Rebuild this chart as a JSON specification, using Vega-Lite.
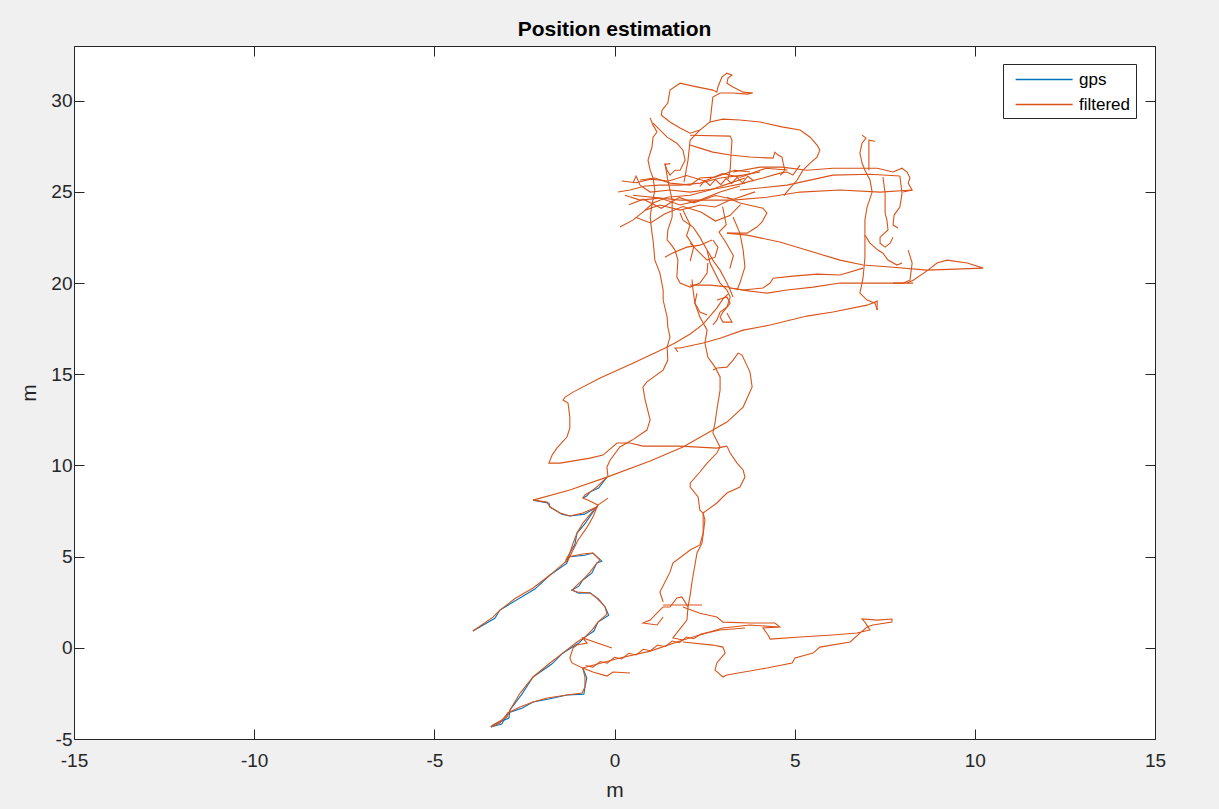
{
"$schema": "https://vega.github.io/schema/vega-lite/v6.json",
"width": 1081, "height": 693,
"autosize": {"type": "none"},
"padding": {"left": 74, "top": 46, "right": 64, "bottom": 70},
"background": "#f0f0f0",
"config": {"view": {"fill": "white", "stroke": "#262626", "strokeWidth": 1}, "font": "Liberation Sans"},
"title": {"text": "Position estimation", "font": "Liberation Sans", "fontSize": 21, "fontWeight": "bold", "color": "black", "offset": -11, "baseline": "alphabetic", "frame": "group"},
"datasets": {"pts": [
{"s":"gps","g":101,"i":0,"x":-3.93,"y":0.92},{"s":"gps","g":101,"i":1,"x":-3.32,"y":1.62},{"s":"gps","g":101,"i":2,"x":-3.18,"y":2.07},{"s":"gps","g":101,"i":3,"x":-2.21,"y":3.22},{"s":"gps","g":101,"i":4,"x":-1.79,"y":3.99},{"s":"gps","g":101,"i":5,"x":-1.32,"y":4.64},{"s":"gps","g":101,"i":6,"x":-1.29,"y":4.98},{"s":"gps","g":101,"i":7,"x":-0.83,"y":5.08},{"s":"gps","g":101,"i":8,"x":-0.6,"y":5.2},{"s":"gps","g":101,"i":9,"x":-0.35,"y":4.75},{"s":"gps","g":101,"i":10,"x":-0.49,"y":4.65},{"s":"gps","g":101,"i":11,"x":-0.63,"y":4.09},{"s":"gps","g":101,"i":12,"x":-0.88,"y":3.72},{"s":"gps","g":101,"i":13,"x":-0.99,"y":3.38},{"s":"gps","g":101,"i":14,"x":-1.18,"y":3.17},{"s":"gps","g":101,"i":15,"x":-0.99,"y":3.0},{"s":"gps","g":101,"i":16,"x":-0.68,"y":3.01},{"s":"gps","g":101,"i":17,"x":-0.44,"y":2.67},{"s":"gps","g":101,"i":18,"x":-0.26,"y":2.24},{"s":"gps","g":101,"i":19,"x":-0.16,"y":1.79},{"s":"gps","g":101,"i":20,"x":-0.46,"y":1.41},{"s":"gps","g":101,"i":21,"x":-0.57,"y":0.92},{"s":"gps","g":101,"i":22,"x":-0.82,"y":0.59},{"s":"gps","g":101,"i":23,"x":-0.99,"y":0.26},{"s":"gps","g":101,"i":24,"x":-1.43,"y":-0.28},{"s":"gps","g":101,"i":25,"x":-1.74,"y":-0.89},{"s":"gps","g":101,"i":26,"x":-2.26,"y":-1.6},{"s":"gps","g":101,"i":27,"x":-2.57,"y":-2.54},{"s":"gps","g":101,"i":28,"x":-2.9,"y":-3.41},{"s":"gps","g":101,"i":29,"x":-2.93,"y":-3.85},{"s":"gps","g":101,"i":30,"x":-3.37,"y":-4.23},{"s":"gps","g":101,"i":31,"x":-3.43,"y":-4.34},
{"s":"gps","g":102,"i":0,"x":-3.43,"y":-4.34},{"s":"gps","g":102,"i":1,"x":-3.13,"y":-4.18},{"s":"gps","g":102,"i":2,"x":-2.96,"y":-3.57},{"s":"gps","g":102,"i":3,"x":-2.57,"y":-3.31},{"s":"gps","g":102,"i":4,"x":-2.26,"y":-2.97},{"s":"gps","g":102,"i":5,"x":-1.82,"y":-2.81},{"s":"gps","g":102,"i":6,"x":-1.32,"y":-2.59},{"s":"gps","g":102,"i":7,"x":-0.85,"y":-2.54},{"s":"gps","g":102,"i":8,"x":-0.82,"y":-2.15},{"s":"gps","g":102,"i":9,"x":-0.77,"y":-1.66},{"s":"gps","g":102,"i":10,"x":-0.88,"y":-1.11},
{"s":"gps","g":103,"i":0,"x":-0.46,"y":7.83},{"s":"gps","g":103,"i":1,"x":-0.83,"y":6.78},{"s":"gps","g":103,"i":2,"x":-1.04,"y":6.29},{"s":"gps","g":103,"i":3,"x":-1.1,"y":5.68},{"s":"gps","g":103,"i":4,"x":-1.24,"y":5.2},{"s":"gps","g":103,"i":5,"x":-1.3,"y":4.75},{"s":"gps","g":103,"i":6,"x":-1.37,"y":4.7},
{"s":"gps","g":104,"i":0,"x":-0.21,"y":9.36},{"s":"gps","g":104,"i":1,"x":-0.44,"y":8.76},{"s":"gps","g":104,"i":2,"x":-0.68,"y":8.54},{"s":"gps","g":104,"i":3,"x":-0.77,"y":8.32},{"s":"gps","g":104,"i":4,"x":-0.88,"y":8.21},
{"s":"gps","g":105,"i":0,"x":-2.26,"y":8.1},{"s":"gps","g":105,"i":1,"x":-1.82,"y":7.93},{"s":"gps","g":105,"i":2,"x":-1.79,"y":7.72},{"s":"gps","g":105,"i":3,"x":-1.46,"y":7.33},{"s":"gps","g":105,"i":4,"x":-1.24,"y":7.23},{"s":"gps","g":105,"i":5,"x":-0.83,"y":7.33},{"s":"gps","g":105,"i":6,"x":-0.49,"y":7.72},

{"s":"filtered","g":1,"i":0,"x":-3.93,"y":0.92},{"s":"filtered","g":1,"i":1,"x":-3.37,"y":1.68},{"s":"filtered","g":1,"i":2,"x":-3.18,"y":2.07},{"s":"filtered","g":1,"i":3,"x":-2.75,"y":2.72},{"s":"filtered","g":1,"i":4,"x":-2.26,"y":3.28},{"s":"filtered","g":1,"i":5,"x":-1.79,"y":3.99},{"s":"filtered","g":1,"i":6,"x":-1.37,"y":4.7},{"s":"filtered","g":1,"i":7,"x":-1.29,"y":4.98},{"s":"filtered","g":1,"i":8,"x":-0.88,"y":5.14},{"s":"filtered","g":1,"i":9,"x":-0.6,"y":5.2},{"s":"filtered","g":1,"i":10,"x":-0.4,"y":4.81},{"s":"filtered","g":1,"i":11,"x":-0.49,"y":4.65},{"s":"filtered","g":1,"i":12,"x":-0.68,"y":4.15},{"s":"filtered","g":1,"i":13,"x":-0.88,"y":3.72},{"s":"filtered","g":1,"i":14,"x":-1.04,"y":3.44},{"s":"filtered","g":1,"i":15,"x":-1.18,"y":3.17},{"s":"filtered","g":1,"i":16,"x":-1.04,"y":3.06},{"s":"filtered","g":1,"i":17,"x":-0.68,"y":3.01},{"s":"filtered","g":1,"i":18,"x":-0.49,"y":2.73},{"s":"filtered","g":1,"i":19,"x":-0.26,"y":2.24},{"s":"filtered","g":1,"i":20,"x":-0.21,"y":1.85},{"s":"filtered","g":1,"i":21,"x":-0.46,"y":1.41},{"s":"filtered","g":1,"i":22,"x":-0.62,"y":0.98},{"s":"filtered","g":1,"i":23,"x":-0.82,"y":0.59},{"s":"filtered","g":1,"i":24,"x":-1.04,"y":0.32},{"s":"filtered","g":1,"i":25,"x":-1.43,"y":-0.28},{"s":"filtered","g":1,"i":26,"x":-1.79,"y":-0.83},{"s":"filtered","g":1,"i":27,"x":-2.26,"y":-1.6},{"s":"filtered","g":1,"i":28,"x":-2.62,"y":-2.48},{"s":"filtered","g":1,"i":29,"x":-2.9,"y":-3.41},{"s":"filtered","g":1,"i":30,"x":-2.98,"y":-3.79},{"s":"filtered","g":1,"i":31,"x":-3.37,"y":-4.23},{"s":"filtered","g":1,"i":32,"x":-3.43,"y":-4.34},
{"s":"filtered","g":2,"i":0,"x":-3.43,"y":-4.34},{"s":"filtered","g":2,"i":1,"x":-3.18,"y":-4.12},{"s":"filtered","g":2,"i":2,"x":-2.96,"y":-3.57},{"s":"filtered","g":2,"i":3,"x":-2.62,"y":-3.25},{"s":"filtered","g":2,"i":4,"x":-2.26,"y":-2.97},{"s":"filtered","g":2,"i":5,"x":-1.87,"y":-2.75},{"s":"filtered","g":2,"i":6,"x":-1.32,"y":-2.59},{"s":"filtered","g":2,"i":7,"x":-0.9,"y":-2.48},{"s":"filtered","g":2,"i":8,"x":-0.82,"y":-2.15},{"s":"filtered","g":2,"i":9,"x":-0.82,"y":-1.6},{"s":"filtered","g":2,"i":10,"x":-0.88,"y":-1.11},{"s":"filtered","g":2,"i":11,"x":-1.18,"y":-0.83},{"s":"filtered","g":2,"i":12,"x":-1.24,"y":-0.56},{"s":"filtered","g":2,"i":13,"x":-1.15,"y":-0.01},{"s":"filtered","g":2,"i":14,"x":-1.04,"y":0.15},{"s":"filtered","g":2,"i":15,"x":-0.76,"y":0.26},{"s":"filtered","g":2,"i":16,"x":-0.88,"y":0.54},{"s":"filtered","g":2,"i":17,"x":-0.07,"y":-0.01},
{"s":"filtered","g":3,"i":0,"x":-0.88,"y":-1.11},{"s":"filtered","g":3,"i":1,"x":-0.6,"y":-1.33},{"s":"filtered","g":3,"i":2,"x":-0.21,"y":-1.55},{"s":"filtered","g":3,"i":3,"x":-0.04,"y":-1.33},{"s":"filtered","g":3,"i":4,"x":0.43,"y":-1.38},
{"s":"filtered","g":4,"i":0,"x":-0.88,"y":-1.11},{"s":"filtered","g":4,"i":1,"x":0.15,"y":-0.56},{"s":"filtered","g":4,"i":2,"x":0.99,"y":-0.18},{"s":"filtered","g":4,"i":3,"x":1.9,"y":0.43},{"s":"filtered","g":4,"i":4,"x":3.01,"y":1.09},{"s":"filtered","g":4,"i":5,"x":3.76,"y":1.25},{"s":"filtered","g":4,"i":6,"x":4.54,"y":1.14},
{"s":"filtered","g":5,"i":0,"x":-0.8,"y":-0.97},{"s":"filtered","g":5,"i":1,"x":-0.6,"y":-1.06},{"s":"filtered","g":5,"i":2,"x":-0.4,"y":-0.75},{"s":"filtered","g":5,"i":3,"x":-0.2,"y":-0.84},{"s":"filtered","g":5,"i":4,"x":0.0,"y":-0.52},{"s":"filtered","g":5,"i":5,"x":0.2,"y":-0.61},{"s":"filtered","g":5,"i":6,"x":0.4,"y":-0.3},{"s":"filtered","g":5,"i":7,"x":0.6,"y":-0.39},{"s":"filtered","g":5,"i":8,"x":0.8,"y":-0.08},{"s":"filtered","g":5,"i":9,"x":1.0,"y":-0.16},{"s":"filtered","g":5,"i":10,"x":1.2,"y":0.15},{"s":"filtered","g":5,"i":11,"x":1.4,"y":0.06},{"s":"filtered","g":5,"i":12,"x":1.6,"y":0.37},{"s":"filtered","g":5,"i":13,"x":1.8,"y":0.28},{"s":"filtered","g":5,"i":14,"x":2.0,"y":0.59},{"s":"filtered","g":5,"i":15,"x":2.2,"y":0.5},{"s":"filtered","g":5,"i":16,"x":2.4,"y":0.75},{"s":"filtered","g":5,"i":17,"x":2.93,"y":0.98},{"s":"filtered","g":5,"i":18,"x":3.62,"y":1.09},
{"s":"filtered","g":6,"i":0,"x":1.9,"y":0.43},{"s":"filtered","g":6,"i":1,"x":1.62,"y":0.54},{"s":"filtered","g":6,"i":2,"x":2.01,"y":1.52},{"s":"filtered","g":6,"i":3,"x":2.04,"y":2.24},{"s":"filtered","g":6,"i":4,"x":1.87,"y":2.79},{"s":"filtered","g":6,"i":5,"x":1.73,"y":2.73},{"s":"filtered","g":6,"i":6,"x":1.54,"y":2.24},{"s":"filtered","g":6,"i":7,"x":1.35,"y":2.24},
{"s":"filtered","g":7,"i":0,"x":1.35,"y":2.35},{"s":"filtered","g":7,"i":1,"x":2.43,"y":2.35},
{"s":"filtered","g":8,"i":0,"x":1.35,"y":2.24},{"s":"filtered","g":8,"i":1,"x":0.99,"y":1.52},{"s":"filtered","g":8,"i":2,"x":0.79,"y":1.36},{"s":"filtered","g":8,"i":3,"x":1.18,"y":1.25},{"s":"filtered","g":8,"i":4,"x":1.35,"y":1.69},
{"s":"filtered","g":9,"i":0,"x":1.35,"y":2.51},{"s":"filtered","g":9,"i":1,"x":1.26,"y":3.06},{"s":"filtered","g":9,"i":2,"x":1.54,"y":4.15},{"s":"filtered","g":9,"i":3,"x":1.62,"y":4.65},{"s":"filtered","g":9,"i":4,"x":2.1,"y":5.36},{"s":"filtered","g":9,"i":5,"x":2.37,"y":5.64},{"s":"filtered","g":9,"i":6,"x":2.46,"y":6.29},{"s":"filtered","g":9,"i":7,"x":2.46,"y":7.01},{"s":"filtered","g":9,"i":8,"x":2.46,"y":7.39},
{"s":"filtered","g":10,"i":0,"x":2.04,"y":2.24},{"s":"filtered","g":10,"i":1,"x":2.1,"y":2.89},{"s":"filtered","g":10,"i":2,"x":2.15,"y":3.61},{"s":"filtered","g":10,"i":3,"x":2.29,"y":5.2},{"s":"filtered","g":10,"i":4,"x":2.43,"y":5.75},{"s":"filtered","g":10,"i":5,"x":2.51,"y":7.01},{"s":"filtered","g":10,"i":6,"x":2.46,"y":7.39},
{"s":"filtered","g":11,"i":0,"x":1.9,"y":2.24},{"s":"filtered","g":11,"i":1,"x":2.37,"y":1.9},{"s":"filtered","g":11,"i":2,"x":2.84,"y":1.69},{"s":"filtered","g":11,"i":3,"x":3.01,"y":1.41},{"s":"filtered","g":11,"i":4,"x":3.76,"y":1.36},{"s":"filtered","g":11,"i":5,"x":4.45,"y":1.36},{"s":"filtered","g":11,"i":6,"x":4.59,"y":1.14},{"s":"filtered","g":11,"i":7,"x":4.12,"y":1.09},{"s":"filtered","g":11,"i":8,"x":4.26,"y":0.7},{"s":"filtered","g":11,"i":9,"x":4.32,"y":0.48},{"s":"filtered","g":11,"i":10,"x":5.15,"y":0.59},{"s":"filtered","g":11,"i":11,"x":6.06,"y":0.7},{"s":"filtered","g":11,"i":12,"x":6.73,"y":0.81},{"s":"filtered","g":11,"i":13,"x":7.09,"y":0.98},{"s":"filtered","g":11,"i":14,"x":6.95,"y":1.41},{"s":"filtered","g":11,"i":15,"x":6.87,"y":1.58},{"s":"filtered","g":11,"i":16,"x":7.29,"y":1.52},{"s":"filtered","g":11,"i":17,"x":7.7,"y":1.58},{"s":"filtered","g":11,"i":18,"x":7.7,"y":1.41},{"s":"filtered","g":11,"i":19,"x":7.17,"y":1.25},{"s":"filtered","g":11,"i":20,"x":7.01,"y":1.14},{"s":"filtered","g":11,"i":21,"x":6.81,"y":0.81},{"s":"filtered","g":11,"i":22,"x":6.54,"y":0.32},{"s":"filtered","g":11,"i":23,"x":5.7,"y":0.04},{"s":"filtered","g":11,"i":24,"x":5.51,"y":-0.29},{"s":"filtered","g":11,"i":25,"x":5.01,"y":-0.56},{"s":"filtered","g":11,"i":26,"x":4.93,"y":-0.83},{"s":"filtered","g":11,"i":27,"x":4.23,"y":-1.11},{"s":"filtered","g":11,"i":28,"x":3.12,"y":-1.49},{"s":"filtered","g":11,"i":29,"x":3.01,"y":-1.6},{"s":"filtered","g":11,"i":30,"x":2.79,"y":-1.22},{"s":"filtered","g":11,"i":31,"x":2.84,"y":-0.83},{"s":"filtered","g":11,"i":32,"x":3.07,"y":-0.29},{"s":"filtered","g":11,"i":33,"x":3.01,"y":0.04},{"s":"filtered","g":11,"i":34,"x":2.73,"y":0.15},{"s":"filtered","g":11,"i":35,"x":1.9,"y":0.32},
{"s":"filtered","g":12,"i":0,"x":-2.26,"y":8.1},{"s":"filtered","g":12,"i":1,"x":-1.87,"y":7.99},{"s":"filtered","g":12,"i":2,"x":-1.79,"y":7.72},{"s":"filtered","g":12,"i":3,"x":-1.51,"y":7.39},{"s":"filtered","g":12,"i":4,"x":-1.24,"y":7.23},{"s":"filtered","g":12,"i":5,"x":-0.88,"y":7.39},{"s":"filtered","g":12,"i":6,"x":-0.49,"y":7.72},{"s":"filtered","g":12,"i":7,"x":-0.46,"y":7.83},{"s":"filtered","g":12,"i":8,"x":-0.18,"y":8.21},
{"s":"filtered","g":13,"i":0,"x":-0.46,"y":7.83},{"s":"filtered","g":13,"i":1,"x":-0.6,"y":7.17},{"s":"filtered","g":13,"i":2,"x":-0.76,"y":6.62},{"s":"filtered","g":13,"i":3,"x":-1.01,"y":5.91},{"s":"filtered","g":13,"i":4,"x":-1.15,"y":5.36},{"s":"filtered","g":13,"i":5,"x":-1.29,"y":4.81},{"s":"filtered","g":13,"i":6,"x":-1.37,"y":4.7},
{"s":"filtered","g":14,"i":0,"x":-0.46,"y":7.83},{"s":"filtered","g":14,"i":1,"x":-0.88,"y":6.84},{"s":"filtered","g":14,"i":2,"x":-1.04,"y":6.29},{"s":"filtered","g":14,"i":3,"x":-1.15,"y":5.74},{"s":"filtered","g":14,"i":4,"x":-1.24,"y":5.2},{"s":"filtered","g":14,"i":5,"x":-1.35,"y":4.81},
{"s":"filtered","g":15,"i":0,"x":-2.26,"y":8.1},{"s":"filtered","g":15,"i":1,"x":-1.24,"y":8.65},{"s":"filtered","g":15,"i":2,"x":-0.21,"y":9.36},{"s":"filtered","g":15,"i":3,"x":0.99,"y":10.24},{"s":"filtered","g":15,"i":4,"x":1.9,"y":11.01},{"s":"filtered","g":15,"i":5,"x":2.73,"y":11.94},{"s":"filtered","g":15,"i":6,"x":3.12,"y":12.38},{"s":"filtered","g":15,"i":7,"x":3.57,"y":13.2},{"s":"filtered","g":15,"i":8,"x":3.82,"y":14.3},{"s":"filtered","g":15,"i":9,"x":3.76,"y":15.12},{"s":"filtered","g":15,"i":10,"x":3.54,"y":16.05},{"s":"filtered","g":15,"i":11,"x":3.43,"y":16.16},{"s":"filtered","g":15,"i":12,"x":3.29,"y":15.78},{"s":"filtered","g":15,"i":13,"x":3.12,"y":15.39},{"s":"filtered","g":15,"i":14,"x":2.85,"y":15.34},{"s":"filtered","g":15,"i":15,"x":2.73,"y":15.23},
{"s":"filtered","g":16,"i":0,"x":-0.21,"y":9.36},{"s":"filtered","g":16,"i":1,"x":-0.49,"y":8.82},{"s":"filtered","g":16,"i":2,"x":-0.68,"y":8.54},{"s":"filtered","g":16,"i":3,"x":-0.82,"y":8.38},{"s":"filtered","g":16,"i":4,"x":-0.88,"y":8.21},{"s":"filtered","g":16,"i":5,"x":-0.74,"y":8.1},{"s":"filtered","g":16,"i":6,"x":-0.46,"y":7.83},
{"s":"filtered","g":17,"i":0,"x":-0.18,"y":9.36},{"s":"filtered","g":17,"i":1,"x":-0.21,"y":9.91},{"s":"filtered","g":17,"i":2,"x":-0.12,"y":10.3},{"s":"filtered","g":17,"i":3,"x":0.15,"y":11.01},{"s":"filtered","g":17,"i":4,"x":0.49,"y":11.39},{"s":"filtered","g":17,"i":5,"x":0.9,"y":11.94},{"s":"filtered","g":17,"i":6,"x":0.99,"y":12.49},{"s":"filtered","g":17,"i":7,"x":0.85,"y":13.59},{"s":"filtered","g":17,"i":8,"x":0.79,"y":14.3},{"s":"filtered","g":17,"i":9,"x":0.9,"y":14.58},{"s":"filtered","g":17,"i":10,"x":1.35,"y":15.23},{"s":"filtered","g":17,"i":11,"x":1.48,"y":15.78},{"s":"filtered","g":17,"i":12,"x":1.46,"y":16.49},{"s":"filtered","g":17,"i":13,"x":1.54,"y":17.04},{"s":"filtered","g":17,"i":14,"x":1.48,"y":17.59},{"s":"filtered","g":17,"i":15,"x":1.46,"y":18.14},{"s":"filtered","g":17,"i":16,"x":1.35,"y":19.07},{"s":"filtered","g":17,"i":17,"x":1.35,"y":19.62},{"s":"filtered","g":17,"i":18,"x":1.26,"y":20.55},{"s":"filtered","g":17,"i":19,"x":1.12,"y":21.26},{"s":"filtered","g":17,"i":20,"x":1.07,"y":22.36},{"s":"filtered","g":17,"i":21,"x":1.04,"y":22.74},{"s":"filtered","g":17,"i":22,"x":0.99,"y":23.62},{"s":"filtered","g":17,"i":23,"x":1.04,"y":24.3},{"s":"filtered","g":17,"i":24,"x":1.12,"y":25.1},
{"s":"filtered","g":18,"i":0,"x":3.15,"y":19.4},{"s":"filtered","g":18,"i":1,"x":3.01,"y":19.13},{"s":"filtered","g":18,"i":2,"x":2.84,"y":18.63},{"s":"filtered","g":18,"i":3,"x":2.46,"y":17.75},{"s":"filtered","g":18,"i":4,"x":2.1,"y":17.21},{"s":"filtered","g":18,"i":5,"x":1.68,"y":16.72},{"s":"filtered","g":18,"i":6,"x":1.35,"y":16.39},{"s":"filtered","g":18,"i":7,"x":0.51,"y":15.61},{"s":"filtered","g":18,"i":8,"x":-0.4,"y":14.79},{"s":"filtered","g":18,"i":9,"x":-1.15,"y":14.02},{"s":"filtered","g":18,"i":10,"x":-1.37,"y":13.75},{"s":"filtered","g":18,"i":11,"x":-1.43,"y":13.59},{"s":"filtered","g":18,"i":12,"x":-1.29,"y":13.42},{"s":"filtered","g":18,"i":13,"x":-1.24,"y":12.65},{"s":"filtered","g":18,"i":14,"x":-1.24,"y":12.05},{"s":"filtered","g":18,"i":15,"x":-1.32,"y":11.56},{"s":"filtered","g":18,"i":16,"x":-1.6,"y":10.95},{"s":"filtered","g":18,"i":17,"x":-1.73,"y":10.57},{"s":"filtered","g":18,"i":18,"x":-1.82,"y":10.13},{"s":"filtered","g":18,"i":19,"x":-1.51,"y":10.13},{"s":"filtered","g":18,"i":20,"x":-0.68,"y":10.4},{"s":"filtered","g":18,"i":21,"x":-0.32,"y":10.57},{"s":"filtered","g":18,"i":22,"x":0.07,"y":11.23},{"s":"filtered","g":18,"i":23,"x":0.43,"y":11.23},{"s":"filtered","g":18,"i":24,"x":0.79,"y":11.06},{"s":"filtered","g":18,"i":25,"x":1.82,"y":11.06},{"s":"filtered","g":18,"i":26,"x":2.84,"y":10.95},{"s":"filtered","g":18,"i":27,"x":3.12,"y":11.06},
{"s":"filtered","g":19,"i":0,"x":3.12,"y":11.06},{"s":"filtered","g":19,"i":1,"x":3.21,"y":10.68},{"s":"filtered","g":19,"i":2,"x":3.4,"y":10.13},{"s":"filtered","g":19,"i":3,"x":3.57,"y":9.75},{"s":"filtered","g":19,"i":4,"x":3.62,"y":9.36},{"s":"filtered","g":19,"i":5,"x":3.48,"y":8.82},{"s":"filtered","g":19,"i":6,"x":3.12,"y":8.49},{"s":"filtered","g":19,"i":7,"x":2.84,"y":7.94},{"s":"filtered","g":19,"i":8,"x":2.57,"y":7.55},{"s":"filtered","g":19,"i":9,"x":2.46,"y":7.39},
{"s":"filtered","g":20,"i":0,"x":2.93,"y":11.01},{"s":"filtered","g":20,"i":1,"x":2.84,"y":10.68},{"s":"filtered","g":20,"i":2,"x":2.57,"y":10.13},{"s":"filtered","g":20,"i":3,"x":2.37,"y":9.64},{"s":"filtered","g":20,"i":4,"x":2.1,"y":9.03},{"s":"filtered","g":20,"i":5,"x":2.1,"y":8.82},{"s":"filtered","g":20,"i":6,"x":2.32,"y":8.27},{"s":"filtered","g":20,"i":7,"x":2.37,"y":7.55},{"s":"filtered","g":20,"i":8,"x":2.46,"y":7.39},
{"s":"filtered","g":21,"i":0,"x":2.93,"y":11.01},{"s":"filtered","g":21,"i":1,"x":2.73,"y":11.78},{"s":"filtered","g":21,"i":2,"x":2.79,"y":12.33},{"s":"filtered","g":21,"i":3,"x":2.84,"y":13.04},{"s":"filtered","g":21,"i":4,"x":2.93,"y":14.13},{"s":"filtered","g":21,"i":5,"x":2.93,"y":14.85},{"s":"filtered","g":21,"i":6,"x":2.79,"y":15.39},{"s":"filtered","g":21,"i":7,"x":2.59,"y":15.94},{"s":"filtered","g":21,"i":8,"x":2.51,"y":16.71},{"s":"filtered","g":21,"i":9,"x":2.57,"y":17.42},{"s":"filtered","g":21,"i":10,"x":2.37,"y":18.14},{"s":"filtered","g":21,"i":11,"x":2.23,"y":18.9},{"s":"filtered","g":21,"i":12,"x":2.18,"y":19.62},{"s":"filtered","g":21,"i":13,"x":2.15,"y":20.2},
{"s":"filtered","g":22,"i":0,"x":1.76,"y":16.22},{"s":"filtered","g":22,"i":1,"x":1.68,"y":16.44},{"s":"filtered","g":22,"i":2,"x":1.82,"y":16.44},{"s":"filtered","g":22,"i":3,"x":2.46,"y":16.71},{"s":"filtered","g":22,"i":4,"x":2.93,"y":16.98},{"s":"filtered","g":22,"i":5,"x":3.57,"y":17.42},{"s":"filtered","g":22,"i":6,"x":4.32,"y":17.7},{"s":"filtered","g":22,"i":7,"x":5.34,"y":18.19},{"s":"filtered","g":22,"i":8,"x":6.06,"y":18.41},{"s":"filtered","g":22,"i":9,"x":7.01,"y":18.79},{"s":"filtered","g":22,"i":10,"x":7.29,"y":19.01},{"s":"filtered","g":22,"i":11,"x":7.29,"y":18.52},
{"s":"filtered","g":23,"i":0,"x":2.84,"y":19.07},{"s":"filtered","g":23,"i":1,"x":3.12,"y":19.24},{"s":"filtered","g":23,"i":2,"x":3.21,"y":18.9},{"s":"filtered","g":23,"i":3,"x":3.01,"y":18.41},{"s":"filtered","g":23,"i":4,"x":2.93,"y":18.14},{"s":"filtered","g":23,"i":5,"x":3.01,"y":17.86},{"s":"filtered","g":23,"i":6,"x":3.26,"y":17.86},{"s":"filtered","g":23,"i":7,"x":3.12,"y":18.36},
{"s":"filtered","g":24,"i":0,"x":0.99,"y":29.05},{"s":"filtered","g":24,"i":1,"x":1.07,"y":28.66},{"s":"filtered","g":24,"i":2,"x":1.18,"y":28.28},{"s":"filtered","g":24,"i":3,"x":1.07,"y":28.0},{"s":"filtered","g":24,"i":4,"x":1.04,"y":27.46},{"s":"filtered","g":24,"i":5,"x":0.93,"y":26.74},{"s":"filtered","g":24,"i":6,"x":0.99,"y":26.19},{"s":"filtered","g":24,"i":7,"x":1.07,"y":25.76},{"s":"filtered","g":24,"i":8,"x":1.12,"y":25.1},
{"s":"filtered","g":25,"i":0,"x":1.07,"y":28.77},{"s":"filtered","g":25,"i":1,"x":1.46,"y":28.0},{"s":"filtered","g":25,"i":2,"x":1.73,"y":27.67},{"s":"filtered","g":25,"i":3,"x":1.9,"y":27.29},{"s":"filtered","g":25,"i":4,"x":1.96,"y":26.74},{"s":"filtered","g":25,"i":5,"x":1.82,"y":26.19},{"s":"filtered","g":25,"i":6,"x":1.68,"y":26.19},{"s":"filtered","g":25,"i":7,"x":1.54,"y":25.92},{"s":"filtered","g":25,"i":8,"x":1.46,"y":26.19},{"s":"filtered","g":25,"i":9,"x":1.4,"y":26.5},{"s":"filtered","g":25,"i":10,"x":1.55,"y":26.55},
{"s":"filtered","g":26,"i":0,"x":1.32,"y":29.48},{"s":"filtered","g":26,"i":1,"x":1.48,"y":29.87},{"s":"filtered","g":26,"i":2,"x":1.54,"y":30.58},{"s":"filtered","g":26,"i":3,"x":1.82,"y":30.96},{"s":"filtered","g":26,"i":4,"x":2.18,"y":30.8},{"s":"filtered","g":26,"i":5,"x":2.73,"y":30.58},{"s":"filtered","g":26,"i":6,"x":2.84,"y":30.47},{"s":"filtered","g":26,"i":7,"x":2.87,"y":30.75},{"s":"filtered","g":26,"i":8,"x":2.98,"y":31.29},{"s":"filtered","g":26,"i":9,"x":3.12,"y":31.51},{"s":"filtered","g":26,"i":10,"x":3.26,"y":31.4},{"s":"filtered","g":26,"i":11,"x":3.15,"y":31.24},{"s":"filtered","g":26,"i":12,"x":3.12,"y":30.96},{"s":"filtered","g":26,"i":13,"x":3.29,"y":30.75},{"s":"filtered","g":26,"i":14,"x":3.57,"y":30.47},{"s":"filtered","g":26,"i":15,"x":3.84,"y":30.42},{"s":"filtered","g":26,"i":16,"x":3.68,"y":30.36},{"s":"filtered","g":26,"i":17,"x":3.29,"y":30.42},{"s":"filtered","g":26,"i":18,"x":2.93,"y":30.42},{"s":"filtered","g":26,"i":19,"x":2.73,"y":30.2},{"s":"filtered","g":26,"i":20,"x":2.71,"y":29.87},{"s":"filtered","g":26,"i":21,"x":2.65,"y":28.83},{"s":"filtered","g":26,"i":22,"x":2.37,"y":28.39},{"s":"filtered","g":26,"i":23,"x":2.1,"y":27.84},{"s":"filtered","g":26,"i":24,"x":2.04,"y":26.74},{"s":"filtered","g":26,"i":25,"x":1.99,"y":26.19},{"s":"filtered","g":26,"i":26,"x":1.93,"y":25.54},
{"s":"filtered","g":27,"i":0,"x":1.32,"y":29.48},{"s":"filtered","g":27,"i":1,"x":1.3,"y":29.2},{"s":"filtered","g":27,"i":2,"x":1.54,"y":28.83},{"s":"filtered","g":27,"i":3,"x":1.82,"y":28.5},{"s":"filtered","g":27,"i":4,"x":2.1,"y":28.22},{"s":"filtered","g":27,"i":5,"x":2.37,"y":28.39},
{"s":"filtered","g":28,"i":0,"x":2.65,"y":28.83},{"s":"filtered","g":28,"i":1,"x":3.01,"y":28.99},{"s":"filtered","g":28,"i":2,"x":3.48,"y":28.94},{"s":"filtered","g":28,"i":3,"x":4.04,"y":28.83},{"s":"filtered","g":28,"i":4,"x":4.68,"y":28.55},{"s":"filtered","g":28,"i":5,"x":5.15,"y":28.39},{"s":"filtered","g":28,"i":6,"x":5.43,"y":28.0},{"s":"filtered","g":28,"i":7,"x":5.62,"y":27.57},{"s":"filtered","g":28,"i":8,"x":5.7,"y":27.29},{"s":"filtered","g":28,"i":9,"x":5.62,"y":26.91},{"s":"filtered","g":28,"i":10,"x":5.43,"y":26.58},{"s":"filtered","g":28,"i":11,"x":5.23,"y":26.19},{"s":"filtered","g":28,"i":12,"x":5.07,"y":25.65},{"s":"filtered","g":28,"i":13,"x":4.87,"y":25.21},{"s":"filtered","g":28,"i":14,"x":4.7,"y":24.8},
{"s":"filtered","g":29,"i":0,"x":2.1,"y":28.11},{"s":"filtered","g":29,"i":1,"x":3.21,"y":28.06},{"s":"filtered","g":29,"i":2,"x":3.26,"y":27.84},{"s":"filtered","g":29,"i":3,"x":3.23,"y":26.91},{"s":"filtered","g":29,"i":4,"x":3.21,"y":26.19},{"s":"filtered","g":29,"i":5,"x":3.15,"y":25.7},
{"s":"filtered","g":30,"i":0,"x":2.1,"y":27.57},{"s":"filtered","g":30,"i":1,"x":2.37,"y":27.4},{"s":"filtered","g":30,"i":2,"x":2.73,"y":27.18},{"s":"filtered","g":30,"i":3,"x":3.21,"y":27.02},{"s":"filtered","g":30,"i":4,"x":3.76,"y":26.91},{"s":"filtered","g":30,"i":5,"x":4.4,"y":26.85},{"s":"filtered","g":30,"i":6,"x":4.45,"y":27.18},{"s":"filtered","g":30,"i":7,"x":4.54,"y":27.02},{"s":"filtered","g":30,"i":8,"x":4.65,"y":26.91},{"s":"filtered","g":30,"i":9,"x":4.68,"y":26.58},{"s":"filtered","g":30,"i":10,"x":4.73,"y":26.19},{"s":"filtered","g":30,"i":11,"x":4.6,"y":25.9},
{"s":"filtered","g":31,"i":0,"x":0.51,"y":24.82},{"s":"filtered","g":31,"i":1,"x":1.82,"y":24.55},{"s":"filtered","g":31,"i":2,"x":3.29,"y":24.55},{"s":"filtered","g":31,"i":3,"x":4.23,"y":24.71},{"s":"filtered","g":31,"i":4,"x":5.15,"y":24.99},{"s":"filtered","g":31,"i":5,"x":6.26,"y":25.1},{"s":"filtered","g":31,"i":6,"x":7.37,"y":24.99},{"s":"filtered","g":31,"i":7,"x":8.26,"y":25.1},
{"s":"filtered","g":32,"i":0,"x":3.29,"y":26.09},{"s":"filtered","g":32,"i":1,"x":4.04,"y":26.36},{"s":"filtered","g":32,"i":2,"x":4.65,"y":26.36},{"s":"filtered","g":32,"i":3,"x":5.34,"y":26.19},{"s":"filtered","g":32,"i":4,"x":6.06,"y":26.3},{"s":"filtered","g":32,"i":5,"x":7.01,"y":26.3},{"s":"filtered","g":32,"i":6,"x":7.29,"y":26.3},{"s":"filtered","g":32,"i":7,"x":7.73,"y":26.09},{"s":"filtered","g":32,"i":8,"x":7.98,"y":26.3},{"s":"filtered","g":32,"i":9,"x":8.12,"y":26.09},{"s":"filtered","g":32,"i":10,"x":8.2,"y":25.76},{"s":"filtered","g":32,"i":11,"x":8.15,"y":25.48},{"s":"filtered","g":32,"i":12,"x":8.26,"y":25.1},{"s":"filtered","g":32,"i":13,"x":8.01,"y":24.99},
{"s":"filtered","g":33,"i":0,"x":3.48,"y":25.1},{"s":"filtered","g":33,"i":1,"x":4.79,"y":25.37},{"s":"filtered","g":33,"i":2,"x":6.06,"y":25.92},{"s":"filtered","g":33,"i":3,"x":7.09,"y":25.97},{"s":"filtered","g":33,"i":4,"x":7.92,"y":25.87},
{"s":"filtered","g":34,"i":0,"x":6.87,"y":28.11},{"s":"filtered","g":34,"i":1,"x":6.98,"y":27.95},{"s":"filtered","g":34,"i":2,"x":6.87,"y":27.67},{"s":"filtered","g":34,"i":3,"x":6.81,"y":27.13},{"s":"filtered","g":34,"i":4,"x":6.87,"y":26.58},{"s":"filtered","g":34,"i":5,"x":6.95,"y":26.19},{"s":"filtered","g":34,"i":6,"x":7.09,"y":25.65},{"s":"filtered","g":34,"i":7,"x":7.15,"y":24.99},{"s":"filtered","g":34,"i":8,"x":7.01,"y":24.17},{"s":"filtered","g":34,"i":9,"x":6.95,"y":23.45},{"s":"filtered","g":34,"i":10,"x":6.95,"y":22.63},{"s":"filtered","g":34,"i":11,"x":7.09,"y":22.19},{"s":"filtered","g":34,"i":12,"x":7.31,"y":21.81},{"s":"filtered","g":34,"i":13,"x":7.45,"y":21.64},{"s":"filtered","g":34,"i":14,"x":7.59,"y":21.26},{"s":"filtered","g":34,"i":15,"x":7.84,"y":20.99},{"s":"filtered","g":34,"i":16,"x":7.98,"y":21.1},
{"s":"filtered","g":35,"i":0,"x":7.23,"y":27.78},{"s":"filtered","g":35,"i":1,"x":7.06,"y":27.84},{"s":"filtered","g":35,"i":2,"x":7.06,"y":26.19},
{"s":"filtered","g":36,"i":0,"x":7.45,"y":25.81},{"s":"filtered","g":36,"i":1,"x":7.51,"y":24.93},{"s":"filtered","g":36,"i":2,"x":7.51,"y":23.84},{"s":"filtered","g":36,"i":3,"x":7.56,"y":23.45},{"s":"filtered","g":36,"i":4,"x":7.59,"y":22.91},{"s":"filtered","g":36,"i":5,"x":7.37,"y":22.52},{"s":"filtered","g":36,"i":6,"x":7.37,"y":22.19},{"s":"filtered","g":36,"i":7,"x":7.51,"y":21.97},{"s":"filtered","g":36,"i":8,"x":7.65,"y":22.19},{"s":"filtered","g":36,"i":9,"x":7.73,"y":22.52},
{"s":"filtered","g":37,"i":0,"x":7.92,"y":25.87},{"s":"filtered","g":37,"i":1,"x":7.98,"y":24.93},{"s":"filtered","g":37,"i":2,"x":7.92,"y":24.17},{"s":"filtered","g":37,"i":3,"x":7.76,"y":23.73},{"s":"filtered","g":37,"i":4,"x":7.73,"y":23.18},{"s":"filtered","g":37,"i":5,"x":7.87,"y":23.02},
{"s":"filtered","g":38,"i":0,"x":6.95,"y":22.63},{"s":"filtered","g":38,"i":1,"x":6.95,"y":21.42},{"s":"filtered","g":38,"i":2,"x":6.9,"y":20.33},{"s":"filtered","g":38,"i":3,"x":6.87,"y":20.0},{"s":"filtered","g":38,"i":4,"x":6.81,"y":19.45},{"s":"filtered","g":38,"i":5,"x":7.01,"y":19.07},{"s":"filtered","g":38,"i":6,"x":7.23,"y":18.9},{"s":"filtered","g":38,"i":7,"x":7.29,"y":18.52},
{"s":"filtered","g":39,"i":0,"x":8.15,"y":21.81},{"s":"filtered","g":39,"i":1,"x":8.26,"y":21.1},{"s":"filtered","g":39,"i":2,"x":8.2,"y":20.16},{"s":"filtered","g":39,"i":3,"x":8.01,"y":20.0},{"s":"filtered","g":39,"i":4,"x":7.73,"y":20.0},
{"s":"filtered","g":40,"i":0,"x":3.12,"y":22.74},{"s":"filtered","g":40,"i":1,"x":3.68,"y":22.63},{"s":"filtered","g":40,"i":2,"x":4.59,"y":22.25},{"s":"filtered","g":40,"i":3,"x":5.51,"y":21.7},{"s":"filtered","g":40,"i":4,"x":6.26,"y":21.26},{"s":"filtered","g":40,"i":5,"x":6.9,"y":20.99},{"s":"filtered","g":40,"i":6,"x":7.65,"y":20.88},{"s":"filtered","g":40,"i":7,"x":8.67,"y":20.71},{"s":"filtered","g":40,"i":8,"x":10.23,"y":20.82},{"s":"filtered","g":40,"i":9,"x":9.79,"y":21.1},{"s":"filtered","g":40,"i":10,"x":9.23,"y":21.26},{"s":"filtered","g":40,"i":11,"x":8.95,"y":21.1},{"s":"filtered","g":40,"i":12,"x":8.7,"y":20.71},{"s":"filtered","g":40,"i":13,"x":8.29,"y":20.16},{"s":"filtered","g":40,"i":14,"x":8.12,"y":20.0},
{"s":"filtered","g":41,"i":0,"x":3.21,"y":19.73},{"s":"filtered","g":41,"i":1,"x":3.57,"y":19.62},{"s":"filtered","g":41,"i":2,"x":4.12,"y":19.73},{"s":"filtered","g":41,"i":3,"x":4.32,"y":20.0},{"s":"filtered","g":41,"i":4,"x":4.4,"y":20.27},{"s":"filtered","g":41,"i":5,"x":4.95,"y":20.38},{"s":"filtered","g":41,"i":6,"x":5.62,"y":20.49},{"s":"filtered","g":41,"i":7,"x":6.26,"y":20.44},{"s":"filtered","g":41,"i":8,"x":6.9,"y":20.82},
{"s":"filtered","g":42,"i":0,"x":3.21,"y":19.73},{"s":"filtered","g":42,"i":1,"x":3.76,"y":19.56},{"s":"filtered","g":42,"i":2,"x":4.23,"y":19.45},{"s":"filtered","g":42,"i":3,"x":4.79,"y":19.62},{"s":"filtered","g":42,"i":4,"x":5.51,"y":19.78},{"s":"filtered","g":42,"i":5,"x":6.26,"y":20.0},{"s":"filtered","g":42,"i":6,"x":7.01,"y":20.0},{"s":"filtered","g":42,"i":7,"x":7.73,"y":20.0},{"s":"filtered","g":42,"i":8,"x":8.29,"y":20.0},
{"s":"filtered","g":43,"i":0,"x":0.1,"y":24.99},{"s":"filtered","g":43,"i":1,"x":0.43,"y":25.1},{"s":"filtered","g":43,"i":2,"x":0.85,"y":25.32},{"s":"filtered","g":43,"i":3,"x":1.26,"y":25.37},{"s":"filtered","g":43,"i":4,"x":1.82,"y":25.37},{"s":"filtered","g":43,"i":5,"x":2.37,"y":25.48},{"s":"filtered","g":43,"i":6,"x":2.93,"y":25.76},{"s":"filtered","g":43,"i":7,"x":3.57,"y":25.92},{"s":"filtered","g":43,"i":8,"x":4.04,"y":26.09},
{"s":"filtered","g":44,"i":0,"x":0.15,"y":23.07},{"s":"filtered","g":44,"i":1,"x":0.51,"y":23.45},{"s":"filtered","g":44,"i":2,"x":0.79,"y":23.89},{"s":"filtered","g":44,"i":3,"x":1.07,"y":24.39},{"s":"filtered","g":44,"i":4,"x":1.46,"y":24.71},{"s":"filtered","g":44,"i":5,"x":2.1,"y":24.82},{"s":"filtered","g":44,"i":6,"x":2.65,"y":25.1},{"s":"filtered","g":44,"i":7,"x":3.21,"y":25.48},{"s":"filtered","g":44,"i":8,"x":3.62,"y":25.76},
{"s":"filtered","g":45,"i":0,"x":0.29,"y":24.82},{"s":"filtered","g":45,"i":1,"x":0.71,"y":24.55},{"s":"filtered","g":45,"i":2,"x":1.26,"y":24.66},{"s":"filtered","g":45,"i":3,"x":1.82,"y":24.28},{"s":"filtered","g":45,"i":4,"x":2.37,"y":24.55},{"s":"filtered","g":45,"i":5,"x":2.93,"y":24.99},{"s":"filtered","g":45,"i":6,"x":3.48,"y":25.32},
{"s":"filtered","g":46,"i":0,"x":0.71,"y":25.65},{"s":"filtered","g":46,"i":1,"x":1.12,"y":25.76},{"s":"filtered","g":46,"i":2,"x":1.54,"y":25.48},{"s":"filtered","g":46,"i":3,"x":2.1,"y":25.37},{"s":"filtered","g":46,"i":4,"x":2.37,"y":25.76},{"s":"filtered","g":46,"i":5,"x":2.79,"y":25.81},{"s":"filtered","g":46,"i":6,"x":3.34,"y":26.19},{"s":"filtered","g":46,"i":7,"x":3.76,"y":26.09},
{"s":"filtered","g":47,"i":0,"x":0.85,"y":24.0},{"s":"filtered","g":47,"i":1,"x":1.26,"y":24.28},{"s":"filtered","g":47,"i":2,"x":1.82,"y":24.0},{"s":"filtered","g":47,"i":3,"x":2.37,"y":24.28},{"s":"filtered","g":47,"i":4,"x":2.79,"y":24.17},{"s":"filtered","g":47,"i":5,"x":3.21,"y":24.55},
{"s":"filtered","g":48,"i":0,"x":0.51,"y":25.48},{"s":"filtered","g":48,"i":1,"x":0.6,"y":25.87},{"s":"filtered","g":48,"i":2,"x":0.71,"y":25.37},{"s":"filtered","g":48,"i":3,"x":0.99,"y":24.99},{"s":"filtered","g":48,"i":4,"x":1.54,"y":25.1},{"s":"filtered","g":48,"i":5,"x":2.1,"y":24.99},{"s":"filtered","g":48,"i":6,"x":2.93,"y":25.21},{"s":"filtered","g":48,"i":7,"x":3.62,"y":25.48},
{"s":"filtered","g":49,"i":0,"x":2.37,"y":25.3},{"s":"filtered","g":49,"i":1,"x":2.5,"y":25.62},{"s":"filtered","g":49,"i":2,"x":2.65,"y":25.35},{"s":"filtered","g":49,"i":3,"x":2.8,"y":25.68},{"s":"filtered","g":49,"i":4,"x":2.95,"y":25.4},{"s":"filtered","g":49,"i":5,"x":3.1,"y":25.74},{"s":"filtered","g":49,"i":6,"x":3.25,"y":25.45},{"s":"filtered","g":49,"i":7,"x":3.4,"y":25.8},{"s":"filtered","g":49,"i":8,"x":3.55,"y":25.5},{"s":"filtered","g":49,"i":9,"x":3.7,"y":25.86},{"s":"filtered","g":49,"i":10,"x":3.87,"y":25.6},
{"s":"filtered","g":50,"i":0,"x":1.4,"y":26.58},{"s":"filtered","g":50,"i":1,"x":1.48,"y":25.65},{"s":"filtered","g":50,"i":2,"x":1.6,"y":24.55},{"s":"filtered","g":50,"i":3,"x":1.6,"y":23.62},
{"s":"filtered","g":51,"i":0,"x":1.82,"y":23.84},{"s":"filtered","g":51,"i":1,"x":1.9,"y":23.45},{"s":"filtered","g":51,"i":2,"x":2.18,"y":23.07},{"s":"filtered","g":51,"i":3,"x":2.37,"y":22.52},{"s":"filtered","g":51,"i":4,"x":2.46,"y":22.19},{"s":"filtered","g":51,"i":5,"x":2.57,"y":21.81},{"s":"filtered","g":51,"i":6,"x":2.73,"y":21.26},{"s":"filtered","g":51,"i":7,"x":2.93,"y":20.71},{"s":"filtered","g":51,"i":8,"x":3.12,"y":20.0},{"s":"filtered","g":51,"i":9,"x":3.21,"y":19.62},{"s":"filtered","g":51,"i":10,"x":3.29,"y":19.23},
{"s":"filtered","g":52,"i":0,"x":3.29,"y":23.62},{"s":"filtered","g":52,"i":1,"x":3.48,"y":22.74},{"s":"filtered","g":52,"i":2,"x":3.57,"y":21.81},{"s":"filtered","g":52,"i":3,"x":3.62,"y":20.88},{"s":"filtered","g":52,"i":4,"x":3.48,"y":20.0},{"s":"filtered","g":52,"i":5,"x":3.4,"y":19.62},
{"s":"filtered","g":53,"i":0,"x":1.6,"y":23.62},{"s":"filtered","g":53,"i":1,"x":1.48,"y":22.91},{"s":"filtered","g":53,"i":2,"x":1.46,"y":22.36},{"s":"filtered","g":53,"i":3,"x":1.54,"y":22.19},{"s":"filtered","g":53,"i":4,"x":1.68,"y":21.81},{"s":"filtered","g":53,"i":5,"x":1.76,"y":21.26},{"s":"filtered","g":53,"i":6,"x":1.73,"y":20.33},{"s":"filtered","g":53,"i":7,"x":1.82,"y":20.0},{"s":"filtered","g":53,"i":8,"x":2.1,"y":19.78},{"s":"filtered","g":53,"i":9,"x":2.37,"y":20.0},{"s":"filtered","g":53,"i":10,"x":2.57,"y":20.55},{"s":"filtered","g":53,"i":11,"x":2.59,"y":21.1},
{"s":"filtered","g":54,"i":0,"x":1.4,"y":21.42},{"s":"filtered","g":54,"i":1,"x":1.6,"y":21.64},{"s":"filtered","g":54,"i":2,"x":2.01,"y":21.97},{"s":"filtered","g":54,"i":3,"x":2.37,"y":22.08},{"s":"filtered","g":54,"i":4,"x":2.71,"y":22.36},
{"s":"filtered","g":55,"i":0,"x":3.12,"y":24.71},{"s":"filtered","g":55,"i":1,"x":3.48,"y":24.39},{"s":"filtered","g":55,"i":2,"x":4.12,"y":24.11},{"s":"filtered","g":55,"i":3,"x":4.23,"y":23.84},{"s":"filtered","g":55,"i":4,"x":4.09,"y":23.34},{"s":"filtered","g":55,"i":5,"x":3.95,"y":23.07},{"s":"filtered","g":55,"i":6,"x":3.68,"y":22.74},{"s":"filtered","g":55,"i":7,"x":3.12,"y":22.74},
{"s":"filtered","g":56,"i":0,"x":2.1,"y":19.89},{"s":"filtered","g":56,"i":1,"x":2.65,"y":19.89},{"s":"filtered","g":56,"i":2,"x":3.21,"y":19.78},
{"s":"filtered","g":57,"i":0,"x":3.57,"y":25.48},{"s":"filtered","g":57,"i":1,"x":4.12,"y":25.76},{"s":"filtered","g":57,"i":2,"x":4.59,"y":26.03},{"s":"filtered","g":57,"i":3,"x":4.79,"y":26.09},{"s":"filtered","g":57,"i":4,"x":4.95,"y":25.92},{"s":"filtered","g":57,"i":5,"x":5.15,"y":26.47},
{"s":"filtered","g":58,"i":0,"x":2.1,"y":22.19},{"s":"filtered","g":58,"i":1,"x":2.37,"y":21.64},{"s":"filtered","g":58,"i":2,"x":2.57,"y":21.26},{"s":"filtered","g":58,"i":3,"x":2.79,"y":21.42},{"s":"filtered","g":58,"i":4,"x":2.87,"y":21.97},{"s":"filtered","g":58,"i":5,"x":2.73,"y":22.36},
{"s":"filtered","g":59,"i":0,"x":2.29,"y":19.45},{"s":"filtered","g":59,"i":1,"x":2.23,"y":18.9},{"s":"filtered","g":59,"i":2,"x":2.37,"y":18.41},{"s":"filtered","g":59,"i":3,"x":2.57,"y":18.25},
{"s":"filtered","g":60,"i":0,"x":2.57,"y":21.81},{"s":"filtered","g":60,"i":1,"x":2.65,"y":21.1},{"s":"filtered","g":60,"i":2,"x":2.93,"y":20.0},{"s":"filtered","g":60,"i":3,"x":3.12,"y":19.62},{"s":"filtered","g":60,"i":4,"x":3.21,"y":19.23},{"s":"filtered","g":60,"i":5,"x":3.12,"y":18.68},{"s":"filtered","g":60,"i":6,"x":2.93,"y":18.41},{"s":"filtered","g":60,"i":7,"x":2.84,"y":17.97},{"s":"filtered","g":60,"i":8,"x":2.73,"y":17.7},
{"s":"filtered","g":61,"i":0,"x":0.2,"y":25.6},{"s":"filtered","g":61,"i":1,"x":0.6,"y":25.5},{"s":"filtered","g":61,"i":2,"x":1.0,"y":25.7},{"s":"filtered","g":61,"i":3,"x":1.5,"y":25.6},{"s":"filtered","g":61,"i":4,"x":2.0,"y":25.9},{"s":"filtered","g":61,"i":5,"x":2.5,"y":25.6},{"s":"filtered","g":61,"i":6,"x":3.0,"y":26.0},{"s":"filtered","g":61,"i":7,"x":3.5,"y":25.8},{"s":"filtered","g":61,"i":8,"x":4.2,"y":26.3},{"s":"filtered","g":61,"i":9,"x":4.8,"y":26.2},
{"s":"filtered","g":62,"i":0,"x":0.4,"y":24.3},{"s":"filtered","g":62,"i":1,"x":0.8,"y":24.6},{"s":"filtered","g":62,"i":2,"x":1.3,"y":24.1},{"s":"filtered","g":62,"i":3,"x":1.8,"y":24.7},{"s":"filtered","g":62,"i":4,"x":2.2,"y":24.4},{"s":"filtered","g":62,"i":5,"x":2.8,"y":24.8},{"s":"filtered","g":62,"i":6,"x":3.3,"y":24.6},{"s":"filtered","g":62,"i":7,"x":3.9,"y":25.0},
{"s":"filtered","g":63,"i":0,"x":0.6,"y":23.6},{"s":"filtered","g":63,"i":1,"x":1.0,"y":23.3},{"s":"filtered","g":63,"i":2,"x":1.4,"y":23.8},{"s":"filtered","g":63,"i":3,"x":1.9,"y":24.2},{"s":"filtered","g":63,"i":4,"x":2.4,"y":23.9},{"s":"filtered","g":63,"i":5,"x":2.8,"y":23.4},{"s":"filtered","g":63,"i":6,"x":3.2,"y":23.7},{"s":"filtered","g":63,"i":7,"x":3.5,"y":24.3},
{"s":"filtered","g":64,"i":0,"x":1.9,"y":24.0},{"s":"filtered","g":64,"i":1,"x":2.1,"y":23.2},{"s":"filtered","g":64,"i":2,"x":2.0,"y":22.6},{"s":"filtered","g":64,"i":3,"x":2.2,"y":22.0},{"s":"filtered","g":64,"i":4,"x":2.1,"y":21.2},
{"s":"filtered","g":65,"i":0,"x":3.0,"y":24.2},{"s":"filtered","g":65,"i":1,"x":3.1,"y":23.2},{"s":"filtered","g":65,"i":2,"x":2.9,"y":22.8},{"s":"filtered","g":65,"i":3,"x":3.1,"y":22.2},{"s":"filtered","g":65,"i":4,"x":3.3,"y":21.5},{"s":"filtered","g":65,"i":5,"x":3.2,"y":20.8}
]},
"data": {"name": "pts"},
"layer": [
{
"transform": [{"filter": "datum.s === 'gps'"}],
"mark": {"type": "line", "strokeWidth": 1.1, "clip": true},
"encoding": {
"x": {"field": "x", "type": "quantitative", "scale": {"domain": [-15, 15], "nice": false, "zero": false},
 "axis": {"orient": "bottom", "values": [-15, -10, -5, 0, 5, 10, 15], "labelExpr": "replace(datum.label, '\u2212', '-')", "title": "m", "titleFont": "Liberation Sans", "titleFontSize": 21, "titleFontWeight": "normal", "titleColor": "#262626", "titlePadding": 9, "labelFont": "Liberation Sans", "labelFontSize": 19, "labelColor": "#262626", "labelFlush": false, "labelOverlap": false, "labelPadding": 22, "tickSize": -10, "tickColor": "#262626", "tickWidth": 1, "domain": false, "grid": false}},
"y": {"field": "y", "type": "quantitative", "scale": {"domain": [-5, 33], "nice": false, "zero": false},
 "axis": {"orient": "left", "values": [-5, 0, 5, 10, 15, 20, 25, 30], "labelExpr": "replace(datum.label, '\u2212', '-')", "title": "m", "titleFont": "Liberation Sans", "titleFontSize": 21, "titleFontWeight": "normal", "titleColor": "#262626", "titlePadding": 11, "labelFont": "Liberation Sans", "labelFontSize": 19, "labelColor": "#262626", "labelFlush": false, "labelOverlap": false, "labelPadding": 12, "tickSize": -10, "tickColor": "#262626", "tickWidth": 1, "domain": false, "grid": false}},
"color": {"field": "s", "type": "nominal", "scale": {"domain": ["gps", "filtered"], "range": ["#0072BD", "#D95319"]},
 "legend": {"title": null, "orient": "none", "legendX": 929, "legendY": 18, "direction": "vertical", "strokeColor": "#262626", "fillColor": "white", "padding": 5, "labelFont": "Liberation Sans", "labelFontSize": 17, "labelColor": "black", "symbolType": "M-0.3,0H5.7", "symbolSize": 361, "symbolStrokeWidth": 1.5, "labelOffset": 50, "rowPadding": 6}},
"detail": {"field": "g", "type": "nominal"},
"order": {"field": "i", "type": "quantitative"}
}
},
{
"transform": [{"filter": "datum.s === 'filtered'"}],
"mark": {"type": "line", "strokeWidth": 1.1, "clip": true},
"encoding": {
"x": {"field": "x", "type": "quantitative", "scale": {"domain": [-15, 15], "nice": false, "zero": false},
 "axis": {"orient": "top", "values": [-15, -10, -5, 0, 5, 10, 15], "title": null, "labels": false, "tickSize": -10, "tickColor": "#262626", "tickWidth": 1, "domain": false, "grid": false}},
"y": {"field": "y", "type": "quantitative", "scale": {"domain": [-5, 33], "nice": false, "zero": false},
 "axis": {"orient": "right", "values": [-5, 0, 5, 10, 15, 20, 25, 30], "title": null, "labels": false, "tickSize": -10, "tickColor": "#262626", "tickWidth": 1, "domain": false, "grid": false}},
"color": {"field": "s", "type": "nominal", "scale": {"domain": ["gps", "filtered"], "range": ["#0072BD", "#D95319"]},
 "legend": {"title": null, "orient": "none", "legendX": 929, "legendY": 18, "direction": "vertical", "strokeColor": "#262626", "fillColor": "white", "padding": 5, "labelFont": "Liberation Sans", "labelFontSize": 17, "labelColor": "black", "symbolType": "M-0.3,0H5.7", "symbolSize": 361, "symbolStrokeWidth": 1.5, "labelOffset": 50, "rowPadding": 6}},
"detail": {"field": "g", "type": "nominal"},
"order": {"field": "i", "type": "quantitative"}
}
}
],
"resolve": {"axis": {"x": "independent", "y": "independent"}}
}
